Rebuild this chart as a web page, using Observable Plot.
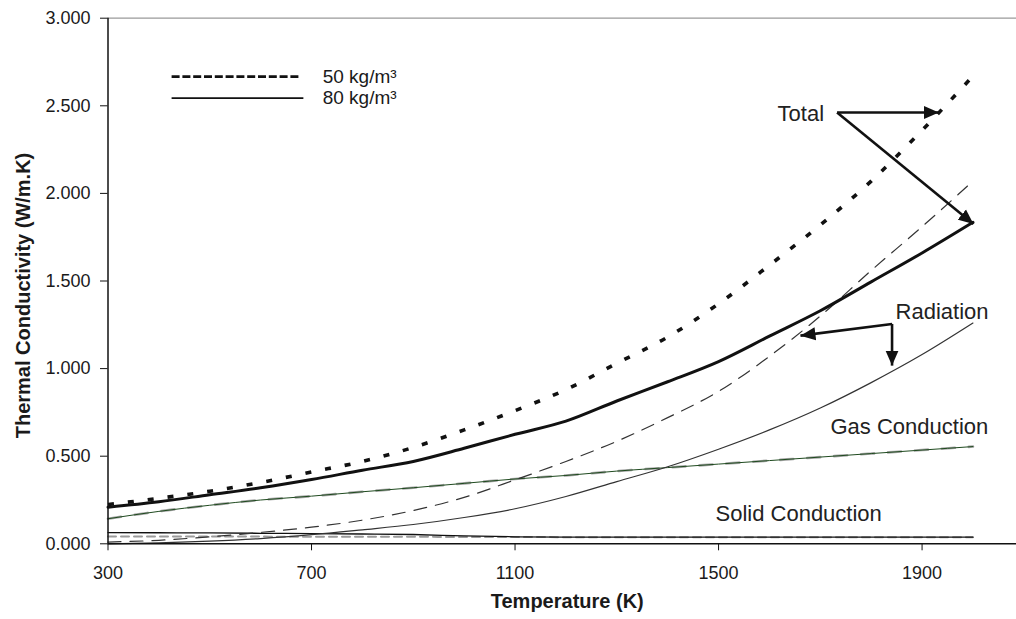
<!DOCTYPE html>
<html>
<head>
<meta charset="utf-8">
<script src="https://cdn.jsdelivr.net/npm/d3@7"></script>
<script src="https://cdn.jsdelivr.net/npm/@observablehq/plot@0.6"></script>
<style>
  html, body { margin: 0; padding: 0; background: #fff; }
  #chart { width: 1016px; height: 619px; overflow: hidden; }
</style>
</head>
<body>
<div id="chart"></div>
<script>
// ---- data ----
const temps = [300, 400, 500, 600, 700, 800, 900, 1000, 1100, 1200, 1300, 1400, 1500, 1600, 1700, 1800, 1900, 2000];
const total50 = [0.224, 0.26, 0.30, 0.35, 0.41, 0.47, 0.55, 0.65, 0.76, 0.88, 1.03, 1.18, 1.37, 1.59, 1.82, 2.07, 2.36, 2.67];
const total80 = [0.209, 0.24, 0.28, 0.32, 0.367, 0.42, 0.47, 0.545, 0.625, 0.70, 0.815, 0.925, 1.04, 1.185, 1.33, 1.495, 1.66, 1.835];
const radiation50 = [0.01, 0.02, 0.04, 0.065, 0.095, 0.135, 0.19, 0.265, 0.365, 0.47, 0.585, 0.72, 0.87, 1.07, 1.30, 1.56, 1.81, 2.07];
const radiation80 = [0.0, 0.005, 0.015, 0.03, 0.052, 0.08, 0.11, 0.15, 0.20, 0.27, 0.355, 0.44, 0.54, 0.65, 0.775, 0.92, 1.08, 1.26];
const gas50 = [0.143, 0.185, 0.22, 0.25, 0.272, 0.297, 0.32, 0.345, 0.37, 0.39, 0.415, 0.435, 0.455, 0.475, 0.495, 0.515, 0.535, 0.555];
const gas80 = [0.143, 0.185, 0.22, 0.25, 0.272, 0.297, 0.32, 0.345, 0.37, 0.39, 0.415, 0.435, 0.455, 0.475, 0.495, 0.515, 0.535, 0.555];
const solid50 = [0.042, 0.042, 0.041, 0.041, 0.040, 0.040, 0.040, 0.039, 0.039, 0.038, 0.038, 0.038, 0.038, 0.038, 0.038, 0.038, 0.038, 0.038];
const solid80 = [0.064, 0.063, 0.062, 0.060, 0.058, 0.056, 0.053, 0.045, 0.040, 0.038, 0.038, 0.038, 0.038, 0.038, 0.038, 0.038, 0.038, 0.038];

const xTicks = [300, 700, 1100, 1500, 1900];
const yTicks = [0, 0.5, 1, 1.5, 2, 2.5, 3];

const legendLabels = ["50 kg/m³", "80 kg/m³"];
const xTitle = "Temperature (K)";
const yTitle = "Thermal Conductivity (W/m.K)";

// annotations (data coordinates: temperature, conductivity)
const notes = [
  {t: 1616, v: 2.453, text: "Total"},
  {t: 1848, v: 1.321, text: "Radiation"},
  {t: 1720, v: 0.665, text: "Gas Conduction"},
  {t: 1494, v: 0.171, text: "Solid Conduction"}
];
const arrows = [
  {t1: 1733, v1: 2.462, t2: 1933, v2: 2.462},
  {t1: 1733, v1: 2.462, t2: 2001, v2: 1.825},
  {t1: 1841, v1: 1.255, t2: 1661, v2: 1.188},
  {t1: 1841, v1: 1.255, t2: 1841, v2: 1.017}
];
const legendRows = [
  {t1: 425, t2: 678, v: 2.667, label: legendLabels[0], dashed: true},
  {t1: 425, t2: 684, v: 2.544, label: legendLabels[1], dashed: false}
];
const legendTextT = 722;

// ---- build ----
const rows = arr => temps.map((t, i) => ({t, v: arr[i]}));
const font = "'Liberation Sans', Arial, Helvetica, sans-serif";
const ink = "#1a1a1a";
const curve = "monotone-x";

const plot = Plot.plot({
  width: 1016,
  height: 619,
  marginLeft: 107.5,
  marginRight: 0,
  marginTop: 17.7,
  marginBottom: 75.7,
  style: {fontFamily: font, fontSize: "18px", color: ink, background: "#fff", overflow: "visible"},
  x: {domain: [300, 2085.6]},
  y: {domain: [0, 3]},
  marks: [
    Plot.ruleY([3], {stroke: "#9a9a9a", strokeWidth: 1.3}),

    // solid conduction
    Plot.line(rows(solid50), {x: "t", y: "v", curve, stroke: "#9a9a9a", strokeWidth: 2, strokeDasharray: "8,5"}),
    Plot.line(rows(solid80), {x: "t", y: "v", curve, stroke: "#111", strokeWidth: 1.3}),

    // gas conduction
    Plot.line(rows(gas50), {x: "t", y: "v", curve, stroke: "#a8a8a8", strokeWidth: 2.6, strokeDasharray: "13,14"}),
    Plot.line(rows(gas80), {x: "t", y: "v", curve, stroke: "#1f4a1f", strokeWidth: 1}),

    // radiation
    Plot.line(rows(radiation50), {x: "t", y: "v", curve, stroke: "#333", strokeWidth: 1.2, strokeDasharray: "13,9"}),
    Plot.line(rows(radiation80), {x: "t", y: "v", curve, stroke: "#333", strokeWidth: 1.2}),

    // totals
    Plot.line(rows(total50), {x: "t", y: "v", curve, stroke: "#111", strokeWidth: 3.6, strokeDasharray: "6,14", strokeLinecap: "butt"}),
    Plot.line(rows(total80), {x: "t", y: "v", curve, stroke: "#111", strokeWidth: 3}),

    // axes
    Plot.ruleX([300], {stroke: "#111", strokeWidth: 1.5}),
    Plot.ruleY([0], {stroke: "#111", strokeWidth: 1.5}),
    Plot.axisY({ticks: yTicks, tickFormat: d3.format(".3f"), tickSize: 7.5, tickPadding: 10, label: null, fontSize: 18, stroke: "#111"}),
    Plot.axisX({ticks: xTicks, tickFormat: d => String(d), tickSize: 7, tickPadding: 15, label: null, fontSize: 18, stroke: "#111"}),

    // axis titles
    Plot.text([xTitle], {frameAnchor: "bottom", dy: 64, dx: 5, textAnchor: "middle", fontWeight: "bold", fontSize: 20, fill: ink}),
    Plot.text([yTitle], {frameAnchor: "left", rotate: -90, dx: -84.5, dy: 14.5, textAnchor: "middle", fontWeight: "bold", fontSize: 20, fill: ink}),

    // legend
    Plot.link(legendRows.filter(d => d.dashed), {x1: "t1", x2: "t2", y1: "v", y2: "v", stroke: "#111", strokeWidth: 2.7, strokeDasharray: "8,2.8"}),
    Plot.link(legendRows.filter(d => !d.dashed), {x1: "t1", x2: "t2", y1: "v", y2: "v", stroke: "#111", strokeWidth: 1.7}),
    Plot.text(legendRows, {x: () => legendTextT, y: "v", text: "label", textAnchor: "start", fontSize: 19, fill: ink}),

    // annotations
    Plot.text(notes, {x: "t", y: "v", text: "text", textAnchor: "start", fontSize: 22, fill: "#222"}),
    Plot.link(arrows, {x1: "t1", y1: "v1", x2: "t2", y2: "v2", stroke: "#111", strokeWidth: 2.6, markerEnd: "arrow"})
  ]
});

// filled triangular arrowheads
d3.select(plot).selectAll("marker")
  .attr("viewBox", "-15 -7 15 14")
  .attr("markerUnits", "userSpaceOnUse")
  .attr("markerWidth", 15)
  .attr("markerHeight", 14)
  .attr("refX", 0)
  .attr("refY", 0)
  .each(function() {
    d3.select(this).selectAll("path")
      .attr("d", "M-15,-6.5L0,0L-15,6.5Z")
      .attr("fill", "#111")
      .attr("stroke", "none");
  });

document.getElementById("chart").appendChild(plot);
</script>
</body>
</html>
